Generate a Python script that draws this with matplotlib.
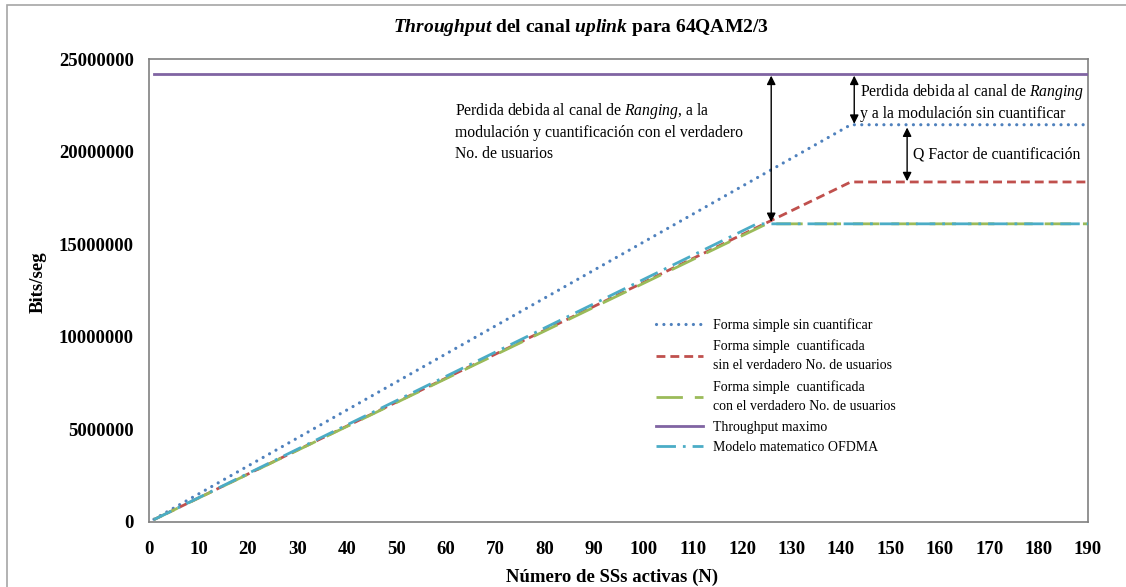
import matplotlib
matplotlib.use('Agg')
import matplotlib.pyplot as plt
from matplotlib.patches import Rectangle

plt.rcParams['font.family'] = 'Liberation Serif'
plt.rcParams['mathtext.fontset'] = 'custom'
plt.rcParams['mathtext.rm'] = 'Liberation Serif'
plt.rcParams['mathtext.it'] = 'Liberation Serif:italic'
plt.rcParams['mathtext.bf'] = 'Liberation Serif:bold'
plt.rcParams['mathtext.bfit'] = 'Liberation Serif:italic:bold'

# data (break points)
n_simple = [1, 142, 190]
v_simple = [150000, 21450000, 21450000]
n_sin_usr = [1, 142, 190]
v_sin_usr = [130000, 18360000, 18360000]
n_con_usr = [1, 125, 190]
v_con_usr = [130000, 16100000, 16100000]
n_max = [1, 190]
v_max = [24170000, 24170000]
n_ofdma = [1, 123, 190]
v_ofdma = [130000, 16100000, 16100000]

labels = ['Forma simple sin cuantificar',
          'Forma simple  cuantificada\nsin el verdadero No. de usuarios',
          'Forma simple  cuantificada\ncon el verdadero No. de usuarios',
          'Throughput maximo',
          'Modelo matematico OFDMA']
xticks = list(range(0, 191, 10))
yticks = [0, 5000000, 10000000, 15000000, 20000000, 25000000]

BLUE, RED, GREEN, PURPLE, CYAN = '#4F81BD', '#C0504D', '#9BBB59', '#8064A2', '#4BACC6'
LW = 2.0

W, H = 1126, 587
fig = plt.figure(figsize=(W / 100, H / 100), dpi=100)
fig.patches.append(Rectangle((7 / W, -0.1), 1.2, 1.1 - 5 / H,
                             transform=fig.transFigure, fill=False,
                             edgecolor='#A6A6A6', lw=1.2))
ax = fig.add_axes([149 / W, 65 / H, 939 / W, 463 / H])

ax.plot(n_simple, v_simple, color=BLUE, lw=2.3, dashes=(0.01, 2.3),
        dash_capstyle='round', label=labels[0], zorder=3)
ax.plot(n_sin_usr, v_sin_usr, color=RED, lw=LW, dashes=(3.2, 1.8), label=labels[1], zorder=3)
ax.plot(n_con_usr, v_con_usr, color=GREEN, lw=LW, dashes=(9.5, 4.3), label=labels[2], zorder=4)
ax.plot(n_max, v_max, color=PURPLE, lw=LW, label=labels[3], zorder=3)
ax.plot(n_ofdma, v_ofdma, color=CYAN, lw=LW, dashes=(7, 2.5, 1, 2.5), label=labels[4], zorder=5)

ax.set_xlim(0, 190)
ax.set_ylim(0, 25000000)
ax.set_xticks(xticks)
ax.set_yticks(yticks)
ax.set_yticklabels([str(t) for t in yticks])
ax.tick_params(axis='both', length=0, labelsize=13.5)
ax.tick_params(axis='x', pad=14)
ax.tick_params(axis='y', pad=11)
for t in ax.get_xticklabels() + ax.get_yticklabels():
    t.set_fontweight('bold')
for s in ax.spines.values():
    s.set_color('#808080')
    s.set_linewidth(1.2)

# arrows
arw = dict(arrowstyle='<|-|>', color='black', lw=1.0, mutation_scale=13,
           shrinkA=0, shrinkB=0)
ax.annotate('', xy=(125.9, 24100000), xytext=(125.9, 16200000), arrowprops=arw)
ax.annotate('', xy=(142.7, 24100000), xytext=(142.7, 21500000), arrowprops=arw)
ax.annotate('', xy=(153.4, 21300000), xytext=(153.4, 18400000), arrowprops=arw)

TXT = 11.3
ax.text(61.9, 22750000,
        'Perdida debida al canal de $\\mathit{Ranging}$, a la\n'
        'modulación y cuantificación con el verdadero\nNo. de usuarios',
        fontsize=TXT, va='top', ha='left', linespacing=1.4)
ax.text(143.9, 23750000,
        'Perdida debida al canal de $\\mathit{Ranging}$\ny a la modulación sin cuantificar',
        fontsize=TXT, va='top', ha='left', linespacing=1.3)
ax.text(154.6, 19820000, 'Q Factor de cuantificación',
        fontsize=TXT, va='center', ha='left')

leg = ax.legend(loc='upper left', bbox_to_anchor=(0.534, 0.452), frameon=False,
                fontsize=10, handlelength=3.4, labelspacing=0.55, handletextpad=0.7,
                borderaxespad=0)
for t in leg.get_texts():
    t.set_linespacing(1.6)

fig.text(581 / W, (H - 28) / H,
         '$\\mathbfit{Throughput}$ del canal $\\mathbfit{uplink}$ para 64QAM2/3',
         fontsize=14, fontweight='bold', ha='center', va='center')
fig.text(38 / W, (H - 282) / H, 'Bits/seg', fontsize=13.5, fontweight='bold',
         rotation=90, ha='center', va='center')
fig.text(612 / W, (H - 577) / H, 'Número de SSs activas (N)', fontsize=13.5,
         fontweight='bold', ha='center', va='center')

fig.savefig('out.png', dpi=100, facecolor='white')
